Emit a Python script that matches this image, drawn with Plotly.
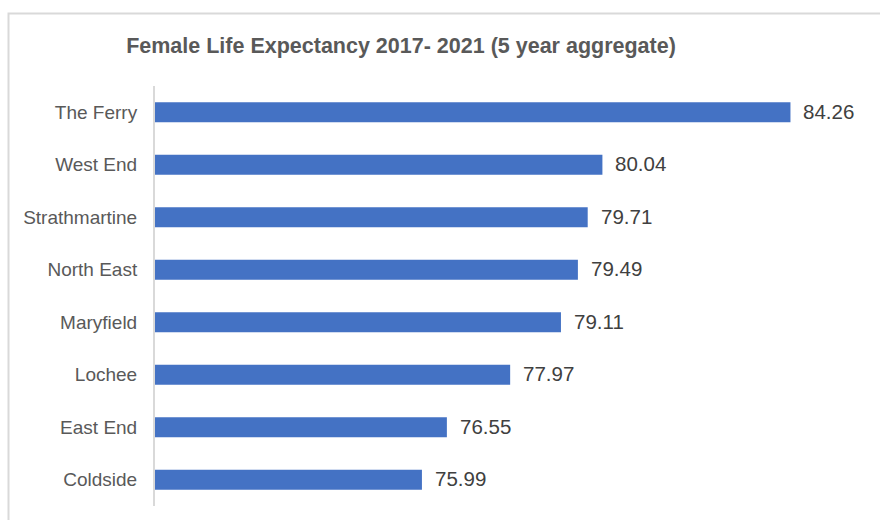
import plotly.graph_objects as go

# Female life expectancy by area, 2017-2021 (5 year aggregate)
areas = ["The Ferry", "West End", "Strathmartine", "North East",
         "Maryfield", "Lochee", "East End", "Coldside"]
life_expectancy = [84.26, 80.04, 79.71, 79.49, 79.11, 77.97, 76.55, 75.99]

W, H = 880, 520
ML, MR, MT, MB = 155, 12, 86, 14
pw, ph = W - ML - MR, H - MT - MB
FONT = "Liberation Sans, Arial, sans-serif"

fig = go.Figure()
fig.add_trace(go.Bar(
    y=areas,
    x=life_expectancy,
    orientation="h",
    width=0.38,
    marker=dict(color="#4472C4", line=dict(width=0)),
    hoverinfo="skip",
))

# value labels just past the end of each bar
for area, val in zip(areas, life_expectancy):
    fig.add_annotation(
        x=val, y=area, xref="x", yref="y",
        text=f"{val:.2f}", showarrow=False,
        xanchor="left", yanchor="middle", xshift=11, yshift=1,
        font=dict(family=FONT, size=20.5, color="#404040"),
    )

# outer chart frame, running off the right and bottom edges
fx0 = (8.5 - ML) / pw
fy1 = (H - MB - 13.5) / ph
fig.add_shape(type="rect", xref="paper", yref="paper",
              x0=fx0, x1=1.2, y0=-0.2, y1=fy1,
              line=dict(color="#d9d9d9", width=2), layer="below")

fig.update_layout(
    width=W, height=H,
    margin=dict(l=ML, r=MR, t=MT, b=MB),
    paper_bgcolor="white", plot_bgcolor="white",
    showlegend=False,
    title=dict(
        text="<b>Female Life Expectancy 2017- 2021 (5 year aggregate)</b>",
        x=(401 - ML) / pw, xref="paper", xanchor="center",
        y=(H - 45) / H, yanchor="middle",
        font=dict(family=FONT, size=21.5, color="#595959"),
    ),
    font=dict(family=FONT),
)
fig.update_xaxes(range=[70, 86], visible=False, showgrid=False, zeroline=False)
fig.update_yaxes(
    categoryorder="array", categoryarray=areas[::-1],
    showline=True, linecolor="#d9d9d9", linewidth=2,
    showgrid=False, zeroline=False, ticks="",
    ticklabelstandoff=12,
    tickfont=dict(family=FONT, size=19, color="#595959"),
)

fig.write_html("out.html")
